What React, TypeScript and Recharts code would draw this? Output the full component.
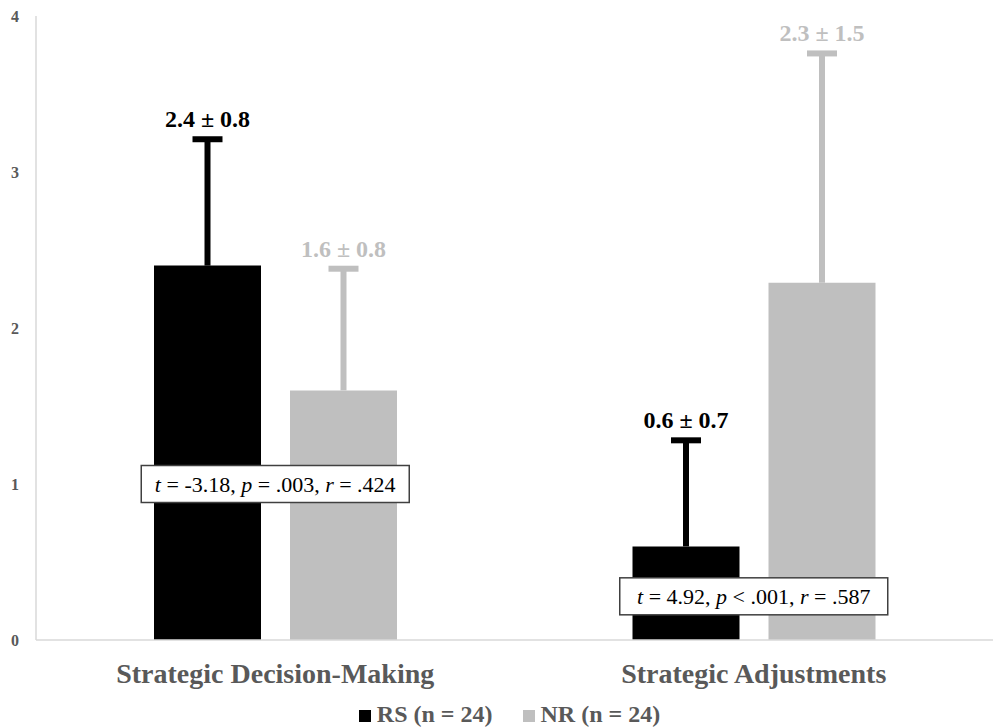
import React from 'react';
import { BarChart, Bar, XAxis, YAxis, LabelList, Legend, ReferenceDot } from 'recharts';

const categories = ['Strategic Decision-Making', 'Strategic Adjustments'];
const rsMean = [2.4, 0.6];
const rsSD = [0.81, 0.68];
const nrMean = [1.6, 2.29];
const nrSD = [0.78, 1.47];
const rsLabels = ['2.4 ± 0.8', '0.6 ± 0.7'];
const nrLabels = ['1.6 ± 0.8', '2.3 ± 1.5'];
const yTicks = [0, 1, 2, 3, 4];
const seriesNames = ['RS (n = 24)', 'NR (n = 24)'];
const statY = [1.0, 0.28];
const statT = ['-3.18', '4.92'];
const statPOp = ['=', '<'];
const statP = ['.003', '.001'];
const statR = ['.424', '.587'];

const RS_COLOR = '#000000';
const NR_COLOR = '#bfbfbf';
const AXIS_TEXT = '#595959';
const FONT = "'Liberation Serif', 'Times New Roman', serif";

const data = categories.map((c, i) => ({
  category: c,
  rs: rsMean[i],
  rsSD: rsSD[i],
  nr: nrMean[i],
  nrSD: nrSD[i],
}));

const makeErrContent = (means: number[], labels: string[], color: string) => (props: any) => {
  const vb = props.viewBox || props;
  const { x, y, width, height } = vb;
  const idx = props.index;
  const sd = Number(props.value);
  const mean = means[idx];
  if (x == null || !mean) return null;
  const pxPerUnit = height / mean;
  const cx = x + width / 2;
  const capY = y - sd * pxPerUnit;
  return (
    <g>
      <line x1={cx} y1={y} x2={cx} y2={capY} stroke={color} strokeWidth={6} />
      <line x1={cx - 15} y1={capY} x2={cx + 15} y2={capY} stroke={color} strokeWidth={6} />
      <text
        x={cx}
        y={capY - 12}
        textAnchor="middle"
        fill={color}
        style={{ fontFamily: FONT, fontWeight: 'bold', fontSize: 24 }}
      >
        {labels[idx]}
      </text>
    </g>
  );
};

const makeStatShape = (i: number) => (props: any) => {
  const { cx, cy } = props;
  const w = 268;
  const h = 37;
  return (
    <g>
      <rect x={cx - w / 2} y={cy - h / 2} width={w} height={h} fill="#ffffff" stroke="#404040" strokeWidth={1.5} />
      <text x={cx} y={cy + 8} textAnchor="middle" fill="#000" style={{ fontFamily: FONT, fontSize: 22 }}>
        <tspan fontStyle="italic">t</tspan>
        <tspan>{` = ${statT[i]}, `}</tspan>
        <tspan fontStyle="italic">p</tspan>
        <tspan>{` ${statPOp[i]} ${statP[i]}, `}</tspan>
        <tspan fontStyle="italic">r</tspan>
        <tspan>{` = ${statR[i]}`}</tspan>
      </text>
    </g>
  );
};

const LegendContent = () => {
  const colors = [RS_COLOR, NR_COLOR];
  return (
    <div style={{ display: 'flex', justifyContent: 'center', alignItems: 'baseline', height: 28, lineHeight: '28px' }}>
      {seriesNames.map((n, i) => (
        <div key={n} style={{ display: 'flex', alignItems: 'baseline', marginLeft: i === 0 ? 0 : 30 }}>
          <span style={{ display: 'inline-block', width: 12, height: 12, background: colors[i], marginRight: 6 }} />
          <span style={{ fontFamily: FONT, fontWeight: 'bold', fontSize: 24, color: AXIS_TEXT }}>{n}</span>
        </div>
      ))}
    </div>
  );
};

export default function App() {
  return (
    <div style={{ position: 'absolute', left: 0, top: 0, width: 993, height: 728, background: '#fff', fontFamily: FONT }}>
      <BarChart
        width={993}
        height={728}
        data={data}
        margin={{ top: 16, right: 0, left: 0, bottom: 0 }}
        barSize={107}
        barGap={29}
        style={{ fontFamily: FONT }}
      >
        <XAxis
          dataKey="category"
          height={88}
          axisLine={{ stroke: '#d9d9d9', strokeWidth: 1.5 }}
          tickLine={false}
          tickSize={0}
          tickMargin={23}
          tick={{ fill: AXIS_TEXT, fontFamily: FONT, fontWeight: 'bold', fontSize: 28 }}
        />
        <YAxis
          width={36}
          domain={[0, 4]}
          ticks={yTicks}
          interval={0}
          axisLine={{ stroke: '#d9d9d9', strokeWidth: 1.5 }}
          tickLine={false}
          tickSize={0}
          tickMargin={17}
          tick={{ fill: AXIS_TEXT, fontFamily: FONT, fontWeight: 'bold', fontSize: 16 }}
        />
        <Bar dataKey="rs" name={seriesNames[0]} fill={RS_COLOR} isAnimationActive={false}>
          <LabelList dataKey="rsSD" content={makeErrContent(rsMean, rsLabels, RS_COLOR)} />
        </Bar>
        <Bar dataKey="nr" name={seriesNames[1]} fill={NR_COLOR} isAnimationActive={false}>
          <LabelList dataKey="nrSD" content={makeErrContent(nrMean, nrLabels, NR_COLOR)} />
        </Bar>
        {categories.map((c, i) => (
          <ReferenceDot
            key={c}
            x={c}
            y={statY[i]}
            r={0}
            ifOverflow="visible"
            zIndex={2500}
            shape={makeStatShape(i)}
          />
        ))}
        <Legend
          layout="horizontal"
          verticalAlign="middle"
          align="center"
          content={<LegendContent />}
          wrapperStyle={{ top: 700, left: 13, width: 993 }}
        />
      </BarChart>
    </div>
  );
}
